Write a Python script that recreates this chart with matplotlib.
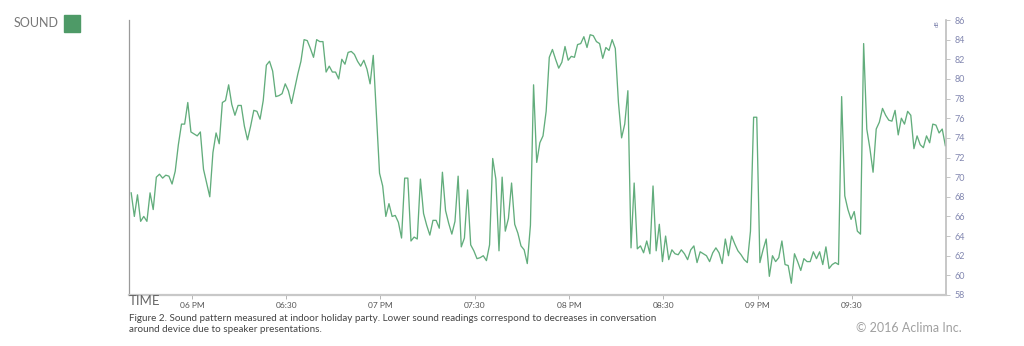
import numpy as np
import matplotlib
matplotlib.use('Agg')
import matplotlib.pyplot as plt
from matplotlib.patches import Rectangle

plt.rcParams['font.family'] = ['Lato', 'DejaVu Sans']

# Sound level readings, one per minute, first one at 17:40:42
start_offset = 0.7  # minutes after 17:40
sound_db = [
    68.4, 66.0, 68.2, 65.5, 66.0, 65.5, 68.4, 66.7, 70.0, 70.3,
    69.9, 70.2, 70.1, 69.3, 70.6, 73.3, 75.4, 75.4, 77.6, 74.6,
    74.4, 74.2, 74.6, 70.8, 69.4, 68.0, 72.5, 74.5, 73.4, 77.6,
    77.8, 79.4, 77.4, 76.3, 77.3, 77.3, 75.2, 73.8, 75.2, 76.8,
    76.7, 75.9, 77.8, 81.4, 81.8, 80.8, 78.2, 78.3, 78.5, 79.5,
    78.8, 77.5, 79.0, 80.5, 81.8, 84.0, 83.9, 83.1, 82.2, 84.0,
    83.8, 83.8, 80.7, 81.3, 80.7, 80.7, 80.0, 82.0, 81.5, 82.7,
    82.8, 82.5, 81.8, 81.3, 81.9, 81.0, 79.5, 82.4, 76.5, 70.4,
    69.1, 66.0, 67.3, 66.0, 66.1, 65.4, 63.8, 69.9, 69.9, 63.5,
    63.9, 63.7, 69.8, 66.3, 65.1, 64.1, 65.6, 65.6, 64.8, 70.5,
    66.6, 65.3, 64.2, 65.5, 70.1, 62.9, 63.8, 68.7, 63.1, 62.5,
    61.7, 61.8, 62.0, 61.5, 63.1, 71.9, 69.8, 62.5, 70.0, 64.5,
    65.8, 69.4, 65.2, 64.3, 63.0, 62.6, 61.2, 65.1, 79.4, 71.5,
    73.5, 74.2, 76.7, 82.2, 83.0, 82.0, 81.1, 81.7, 83.3, 81.9,
    82.3, 82.2, 83.5, 83.6, 84.3, 83.2, 84.5, 84.4, 83.8, 83.6,
    82.1, 83.2, 82.9, 84.0, 83.1, 77.6, 74.0, 75.4, 78.8, 62.8,
    69.4, 62.7, 63.0, 62.3, 63.5, 62.2, 69.1, 62.5, 65.2, 61.4,
    64.0, 61.6, 62.6, 62.2, 62.1, 62.6, 62.2, 61.6, 62.6, 63.0,
    61.3, 62.4, 62.2, 62.0, 61.4, 62.3, 62.8, 62.3, 61.2, 63.7,
    62.0, 64.0, 63.2, 62.5, 62.1, 61.6, 61.3, 64.5, 76.1, 76.1,
    61.3, 62.6, 63.7, 59.9, 62.0, 61.4, 61.8, 63.5, 61.1, 61.0,
    59.2, 62.2, 61.4, 60.5, 61.7, 61.4, 61.4, 62.4, 61.7, 62.4,
    61.1, 62.9, 60.7, 61.1, 61.3, 61.1, 78.2, 68.1, 66.7, 65.7,
    66.5, 64.5, 64.2, 83.6, 74.9, 72.9, 70.5, 74.9, 75.6, 77.0,
    76.3, 75.8, 75.7, 76.8, 74.3, 76.0, 75.4, 76.7, 76.3, 72.9,
    74.2, 73.3, 73.0, 74.2, 73.5, 75.4, 75.3, 74.5, 74.9, 73.2,
]

# tick positions in minutes after 17:40
tick_minutes = [20, 50, 80, 110, 140, 170, 200, 230]
tick_labels = ['06 PM', '06:30', '07 PM', '07:30', '08 PM', '08:30', '09 PM', '09:30']
y_ticks = list(range(58, 87, 2))

minutes = start_offset + np.arange(len(sound_db))

fig = plt.figure(figsize=(10.24, 3.46), dpi=100)
ax = fig.add_axes([129/1024, 1 - 295/346, (946 - 129)/1024, (295 - 20)/346])

line_green = '#62ad7c'
ax.plot(minutes, sound_db, color=line_green, lw=0.95)

ax.set_xlim(0, 259.9)
ax.set_ylim(58, 86)

ax.spines['top'].set_visible(False)
ax.spines['left'].set_color('#9a9a9a')
ax.spines['left'].set_linewidth(0.9)
ax.spines['right'].set_color('#bdbdbd')
ax.spines['right'].set_linewidth(1.2)
ax.spines['bottom'].set_color('#c8c8c8')
ax.spines['bottom'].set_linewidth(1.6)

ax.yaxis.tick_right()
ax.set_yticks(y_ticks)
ax.set_yticklabels([str(v) for v in y_ticks])
ax.tick_params(axis='y', which='both', right=True, left=False, length=3, width=0.6,
               color='#bdbdbd', labelsize=6.5, labelcolor='#8287b0', pad=3)

ax.set_xticks(tick_minutes)
ax.set_xticklabels(tick_labels)
ax.tick_params(axis='x', length=3, width=0.6, color='#aaaaaa', labelsize=6,
               labelcolor='#555555', pad=2)

# small unit label at top of the right axis
ax.text(0.989, 1.0, 'dB', transform=ax.transAxes, rotation=90, fontsize=4,
        color='#8287b0', ha='center', va='top')

# legend box top left
fig.text(14/1024, 1 - 23/346, 'SOUND', fontsize=9, color='#777777', va='center', ha='left')
fig.patches.append(Rectangle((64/1024, 1 - 32/346), 16/1024, 17/346,
                             transform=fig.transFigure, color='#4e9a67', figure=fig))

fig.text(129/1024, 1 - 301/346, 'TIME', fontsize=9.5, color='#666666', va='center', ha='left')

fig.text(129/1024, 1 - 324/346,
         'Figure 2. Sound pattern measured at indoor holiday party. Lower sound readings correspond to decreases in conversation\n'
         'around device due to speaker presentations.',
         fontsize=7.1, color='#444444', va='center', ha='left', linespacing=1.3)

fig.text(962/1024, 1 - 328/346, '\u00a9 2016 Aclima Inc.', fontsize=9, color='#a0a0a0',
         va='center', ha='right')

fig.savefig('out.png', dpi=100)
